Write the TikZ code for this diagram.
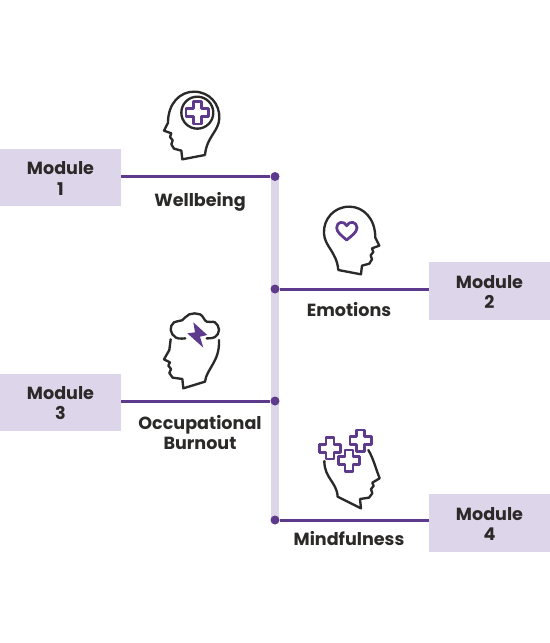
\documentclass[tikz,border=0pt]{standalone}
\usepackage{fontspec}
\setmainfont{Poppins}
\definecolor{modpurple}{HTML}{5E3A8C}
\definecolor{modlight}{HTML}{DDD6EA}
\definecolor{headdark}{HTML}{2B2A29}
\tikzset{
  modbox/.style={fill=modlight,minimum width=2.42cm,minimum height=1.15cm,inner sep=0pt,align=center,
    text depth=-1.2pt,font=\fontsize{10}{11.4}\selectfont\bfseries,text=headdark},
  caption/.style={align=center,inner sep=0pt,font=\fontsize{10}{11.4}\selectfont\bfseries,text=headdark},
  dot/.style={circle,fill=modpurple,minimum size=0.18cm,inner sep=0pt},
  link/.style={draw=modpurple,line width=0.06cm},
  headline/.style={draw=headdark,line width=0.047cm,line cap=round,line join=round},
  accent/.style={draw=modpurple,line width=0.055cm,line cap=round,line join=round},
}
\newcommand{\plusmark}[3]{% centre x, centre y, arm
  \draw[accent] (#1-12,#2-#3) -- (#1+12,#2-#3) -- (#1+12,#2-12) -- (#1+#3,#2-12)
    -- (#1+#3,#2+12) -- (#1+12,#2+12) -- (#1+12,#2+#3) -- (#1-12,#2+#3) -- (#1-12,#2+12)
    -- (#1-#3,#2+12) -- (#1-#3,#2-12) -- (#1-12,#2-12) -- cycle;}
\newcommand{\headclosed}{%
  \draw[headline] (165,225) -- (97,238) -- (94,212) -- (72,206) -- (64,193) -- (68,181) -- (60,171)
    -- (64,160) -- (42,152) -- (54,128)
    .. controls (54,70) and (90,35) .. (132,35)
    .. controls (178,35) and (210,72) .. (208,115)
    .. controls (206,155) and (170,170) .. (165,225);}
\begin{document}
\begin{tikzpicture}[x=0.02cm,y=-0.02cm]
  \useasboundingbox (0,0) rectangle (550,643);

  % --- barra verticale
  \fill[modlight] (271,176) rectangle (279,520);

  % --- moduli e punti
  \node[modbox] (mod1) at (60.5,177.5) {};
  \node[modbox] (mod2) at (489.5,291) {};
  \node[modbox] (mod3) at (60.5,402.5) {};
  \node[modbox] (mod4) at (489.5,523) {};
  \node[caption] (lab1) at (60.5,178.5) {Module\\1};
  \node[caption] (lab2) at (489.5,292) {Module\\2};
  \node[caption] (lab3) at (60.5,403.5) {Module\\3};
  \node[caption] (lab4) at (489.5,524) {Module\\4};
  \node[dot] (dot1) at (275,176.5) {};
  \node[dot] (dot2) at (275,289) {};
  \node[dot] (dot3) at (275,401) {};
  \node[dot] (dot4) at (275,520) {};
  \draw[link] (mod1.east |- dot1) -- (dot1);
  \draw[link] (dot2) -- (mod2.west |- dot2);
  \draw[link] (mod3.east |- dot3) -- (dot3);
  \draw[link] (dot4) -- (mod4.west |- dot4);

  % --- didascalie
  \node[caption] (well) at (200,202) {Wellbeing};
  \node[caption] (emo) at (349,310) {Emotions};
  \node[caption] (burn) at (200,433) {Occupational\\Burnout};
  \node[caption] (mind) at (349,539) {Mindfulness};

  % --- testa con croce
  \begin{scope}[shift={(150,80)},scale=0.3333]
    \headclosed
    \draw[headline] (142,98) circle (48);
    \plusmark{142}{98}{34}
  \end{scope}

  % --- testa con cuore
  \begin{scope}[shift={(393.3,195)},xscale=-0.3333,yscale=0.3333]
    \headclosed
  \end{scope}
  \begin{scope}[shift={(310,195)},scale=0.3333]
    \draw[accent] (110,135) .. controls (95,122) and (80,112) .. (80,98)
      .. controls (80,80) and (102,76) .. (110,92)
      .. controls (118,76) and (141,80) .. (141,98)
      .. controls (141,112) and (125,122) .. (110,135) -- cycle;
  \end{scope}

  % --- testa con nuvola
  \begin{scope}[shift={(150,305)},scale=0.3333]
    \draw[headline] (62,103) -- (58,135) -- (42,163) -- (60,172) -- (55,182) -- (63,192) -- (58,204)
      -- (68,218) -- (97,222) -- (100,250) -- (165,230)
      .. controls (170,190) and (210,170) .. (207,105);
    \draw[headline] plot[smooth,tension=0.7] coordinates {(106,100) (78,98) (62,75) (72,52) (96,46) (118,28) (150,28) (170,50) (195,52) (207,75) (195,96) (170,100)};
    \fill[modpurple] (130,52) -- (172,90) -- (150,95) -- (160,128) -- (112,85) -- (135,82) -- cycle;
  \end{scope}

  % --- testa con tre croci
  \begin{scope}[shift={(305,425)},scale=0.3333]
    \draw[headline] (58,108) .. controls (58,160) and (95,170) .. (98,215)
      -- (168,250) -- (165,222) -- (192,218) -- (202,205) -- (198,192) -- (206,183) -- (202,173) -- (224,160)
      .. controls (212,130) and (205,100) .. (190,75);
    \plusmark{75}{70}{32}
    \plusmark{132}{107}{32}
    \plusmark{167}{47}{32}
  \end{scope}
\end{tikzpicture}
\end{document}
